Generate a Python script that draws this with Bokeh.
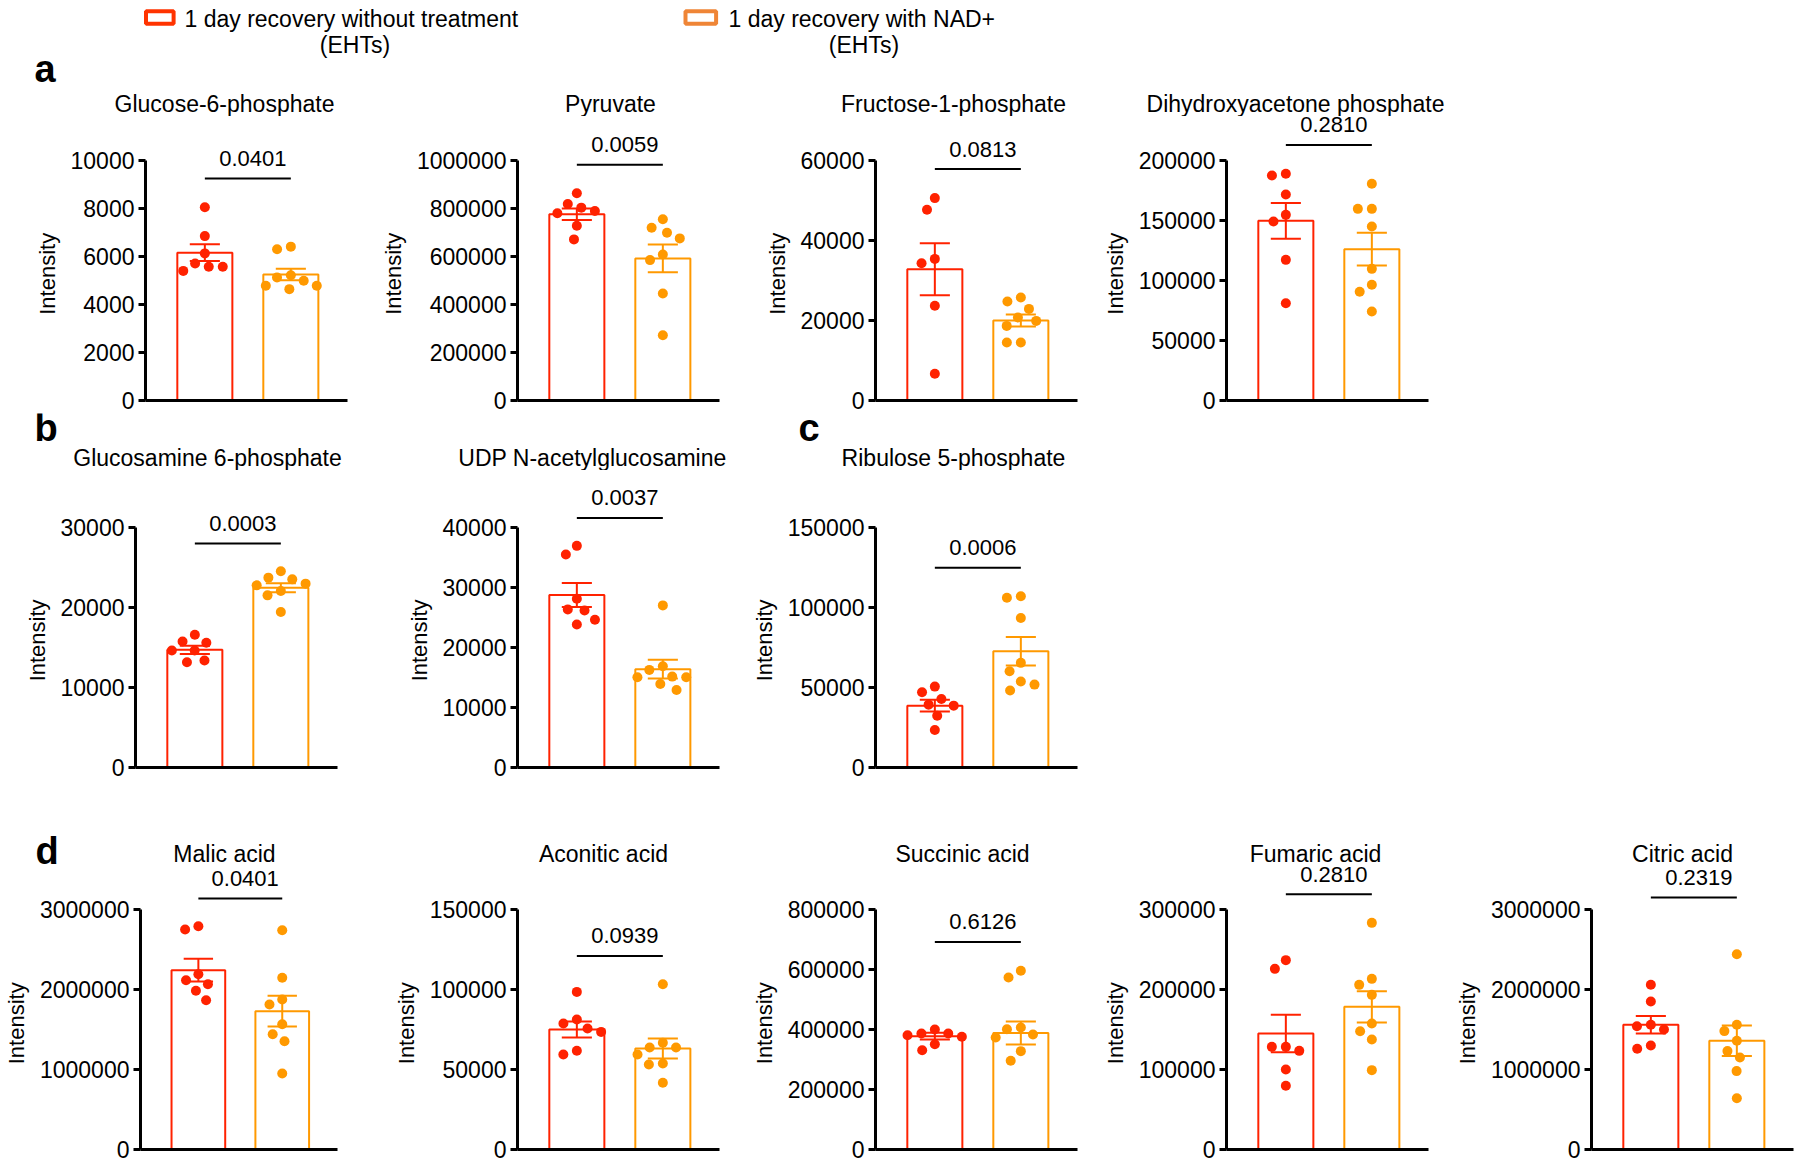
import math
from bokeh.plotting import figure
from bokeh.layouts import column, row
from bokeh.models import Range1d, FixedTicker, NumeralTickFormatter, Label, ColumnDataSource
from bokeh.embed import file_html
from bokeh.resources import INLINE

# ---------------- data ----------------
titles = ["Glucose-6-phosphate", "Pyruvate", "Fructose-1-phosphate", "Dihydroxyacetone phosphate",
          "Glucosamine 6-phosphate", "UDP N-acetylglucosamine", "Ribulose 5-phosphate",
          "Malic acid", "Aconitic acid", "Succinic acid", "Fumaric acid", "Citric acid"]
p_values = ["0.0401", "0.0059", "0.0813", "0.2810", "0.0003", "0.0037", "0.0006",
            "0.0401", "0.0939", "0.6126", "0.2810", "0.2319"]
y_max = [10000, 1000000, 60000, 200000, 30000, 40000, 150000,
         3000000, 150000, 800000, 300000, 3000000]
y_step = [2000, 200000, 20000, 50000, 10000, 10000, 50000,
          1000000, 50000, 200000, 100000, 1000000]
bracket_level = [9250, 982000, 57850, 213000, 28000, 41600, 124900,
                 3137000, 121000, 692000, 319000, 3150000]

ctrl_mean = [6160, 775800, 32830, 149700, 14710, 28750, 38650,
             2241700, 75000, 377800, 145000, 1560000]
ctrl_sem = [350, 23700, 6500, 14860, 520, 1980, 3660,
            141700, 5000, 11100, 23300, 110000]
nad_mean = [5250, 591900, 20000, 126100, 22480, 16380, 72700,
            1729200, 63130, 388000, 178300, 1360000]
nad_sem = [240, 57800, 1500, 13610, 560, 1560, 8880,
           191700, 6250, 38300, 19600, 190000]

g6p_ctrl = [8050, 6850, 6130, 5710, 5570, 5570, 5400]
g6p_nad = [6300, 6410, 5130, 4990, 5220, 4640, 4780, 4780]
pyr_ctrl = [863500, 803600, 819000, 780000, 789700, 728400, 671300]
pyr_nad = [720000, 754900, 675500, 699200, 608600, 585000, 445700, 271600]
f1p_ctrl = [50600, 47700, 34300, 35400, 23700, 6700]
f1p_nad = [24750, 25750, 22900, 20750, 19900, 18650, 14500, 14500]
dhap_ctrl = [188900, 187500, 171700, 154700, 149200, 117200, 81100]
dhap_nad = [180600, 159700, 159700, 145000, 109700, 96400, 90600, 74200]
gln6p_ctrl = [16590, 15590, 15750, 14620, 14620, 13160, 13370]
gln6p_nad = [24530, 23730, 23520, 22770, 22980, 22060, 21520, 19430]
udp_ctrl = [36940, 35490, 28130, 26180, 26350, 23840, 24620]
udp_nad = [27020, 16880, 16270, 15040, 15150, 15040, 13930, 12930]
ru5p_ctrl = [50560, 47010, 42830, 39280, 38650, 32380, 23400]
ru5p_nad = [106100, 107000, 93400, 65400, 60200, 53700, 48100, 51800]
mal_ctrl = [2750000, 2791700, 2191700, 2116700, 2066700, 1983300, 1866700]
mal_nad = [2741700, 2145800, 1875000, 1812500, 1566700, 1441700, 1354200, 950000]
aco_ctrl = [98500, 81250, 75600, 78750, 73500, 59400, 61700]
aco_nad = [103300, 66700, 63750, 63750, 59400, 53100, 53750, 41700]
suc_ctrl = [400000, 375600, 386700, 386700, 381100, 331100, 351100]
suc_nad = [595600, 573300, 406700, 401100, 383300, 373300, 327800, 295600]
fum_ctrl = [236700, 225800, 128300, 123300, 128300, 100000, 79600]
fum_nad = [283300, 213300, 205800, 193300, 147900, 157500, 137500, 99200]
cit_ctrl = [2060000, 1850000, 1560000, 1540000, 1500000, 1300000, 1260000]
cit_nad = [2440000, 1560000, 1480000, 1360000, 1230000, 1150000, 980000, 640000]

ctrl_points = [g6p_ctrl, pyr_ctrl, f1p_ctrl, dhap_ctrl, gln6p_ctrl, udp_ctrl, ru5p_ctrl,
               mal_ctrl, aco_ctrl, suc_ctrl, fum_ctrl, cit_ctrl]
nad_points = [g6p_nad, pyr_nad, f1p_nad, dhap_nad, gln6p_nad, udp_nad, ru5p_nad,
              mal_nad, aco_nad, suc_nad, fum_nad, cit_nad]

legend_labels = ["1 day recovery without treatment", "1 day recovery with NAD+"]
legend_sub = "(EHTs)"
panel_letters = ["a", "b", "c", "d"]
y_label = "Intensity"

# ---------------- layout / style ----------------
FONT = "Liberation Sans"
RED = "#FF2200"
ORANGE = "#FF9900"
LEG_RED = "#FF3300"
LEG_ORANGE = "#EF8536"

KX = 86.0          # px per x unit
X0 = 0.31
Y_PX = 240.0       # px from 0 to y max
SPACING = 14.0     # swarm spacing px
STRIP_W = 1790

panel_row = [0, 0, 0, 0, 1, 1, 1, 2, 2, 2, 2, 2]
fig_width = [377, 358, 351, 362, 377, 358, 351, 377, 358, 351, 365, 345]
border_left = [145, 140, 140, 140, 135, 140, 140, 135, 140, 140, 140, 140]
border_right = [30, 16, 9, 20, 40, 16, 9, 40, 16, 9, 23, 3]
title_dx = [79, 93, 78, 69, 72, 75, 78, 89, 86, 87, 89, 91]
strip_top = [0, 413, 783]
strip_height = [116, 57, 83]
row_height = [297, 313, 297]
row_bottom = [13, 16, 14]
title_y = [103, 457, 853]
label_pad = [5, 7, 5]     # non-breaking spaces to centre the axis label on the axis
# letter: (row, x left, y centre)
letter_pos = [(0, 34, 68), (1, 34, 427), (1, 798, 427), (2, 35, 850)]


def swarm(vals, ky):
    placed = []
    offs = [0.0] * len(vals)
    for i in sorted(range(len(vals)), key=lambda k: -vals[k]):
        y = vals[i] * ky
        cands = [0.0]
        for (px, py) in placed:
            dy = abs(py - y)
            if dy < SPACING:
                dx = math.sqrt(SPACING ** 2 - dy ** 2)
                cands.extend([px - dx, px + dx])
        cands.sort(key=lambda c: (round(abs(c), 6), c))
        for c in cands:
            if all((c - px) ** 2 + (y - py) ** 2 >= SPACING ** 2 - 1e-6 for px, py in placed):
                offs[i] = c
                break
        placed.append((offs[i], y))
    return offs


row_x = [0, 0, 0]
axis_x = []
for i in range(12):
    r = panel_row[i]
    axis_x.append(row_x[r] + border_left[i])
    row_x[r] += fig_width[i]


def make_strip(r):
    h = strip_height[r]
    s = figure(width=STRIP_W, height=h, x_range=Range1d(0, STRIP_W), y_range=Range1d(h, 0),
               x_axis_type=None, y_axis_type=None, output_backend="svg",
               toolbar_location=None, min_border=0)
    s.outline_line_color = None
    s.grid.visible = False
    return s


strips = [make_strip(r) for r in range(3)]

rows = [[], [], []]
for i in range(12):
    r = panel_row[i]
    ymax = y_max[i]
    ky = Y_PX / ymax
    fh = row_height[r] - row_bottom[r]
    fw = fig_width[i] - border_left[i] - border_right[i]
    p = figure(width=fig_width[i], height=row_height[r],
               x_range=Range1d(X0, X0 + fw / KX), y_range=Range1d(0, fh / ky),
               output_backend="svg", toolbar_location=None,
               min_border_left=border_left[i], min_border_right=border_right[i],
               min_border_top=0, min_border_bottom=row_bottom[r])
    p.outline_line_color = None
    p.grid.visible = False

    ya = p.yaxis[0]
    ya.ticker = FixedTicker(ticks=list(range(0, ymax + 1, y_step[i])))
    ya.formatter = NumeralTickFormatter(format="0")
    ya.bounds = (0, ymax)
    ya.axis_label = y_label + "\u00a0" * label_pad[r]
    ya.axis_label_text_font = FONT
    ya.axis_label_text_font_size = "22px"
    ya.axis_label_text_font_style = "normal"
    ya.axis_label_text_color = "black"
    ya.axis_label_standoff = 8
    ya.major_label_text_font = FONT
    ya.major_label_text_font_size = "23px"
    ya.major_label_text_color = "black"
    ya.major_label_standoff = 4
    ya.axis_line_width = 3
    ya.axis_line_color = "black"
    ya.major_tick_line_width = 3
    ya.major_tick_line_color = "black"
    ya.major_tick_out = 7
    ya.major_tick_in = 0
    ya.minor_tick_line_color = None

    xa = p.xaxis[0]
    xa.ticker = FixedTicker(ticks=[])
    xa.major_label_text_font_size = "0px"
    xa.major_label_standoff = 0
    xa.major_tick_line_color = None
    xa.major_tick_out = 0
    xa.minor_tick_line_color = None
    xa.axis_line_width = 3
    xa.axis_line_color = "black"

    means = [ctrl_mean[i], nad_mean[i]]
    sems = [ctrl_sem[i], nad_sem[i]]
    cols = [RED, ORANGE]
    src = ColumnDataSource(dict(x=[1, 2], top=means, c=cols))
    p.vbar(x="x", top="top", bottom=0, width=0.64, source=src,
           fill_color=None, line_color="c", line_width=2)

    for k, pts in enumerate([ctrl_points[i], nad_points[i]]):
        offs = swarm(pts, ky)
        xs = [k + 1 + o / KX for o in offs]
        p.scatter(x=xs, y=pts, size=10, fill_color=cols[k], line_color=None)

    lo = [m - s for m, s in zip(means, sems)]
    hi = [m + s for m, s in zip(means, sems)]
    p.segment(x0=[1, 2], y0=lo, x1=[1, 2], y1=hi, line_color=cols, line_width=2)
    cw = 0.175
    p.segment(x0=[1 - cw, 2 - cw, 1 - cw, 2 - cw], x1=[1 + cw, 2 + cw, 1 + cw, 2 + cw],
              y0=hi + lo, y1=hi + lo, line_color=cols + cols, line_width=2)

    b = bracket_level[i]
    p.segment(x0=[1], x1=[2], y0=[b], y1=[b], line_color="black", line_width=2)
    p.add_layout(Label(x=1.5 + 5 / KX, y=b + 20 / ky, text=p_values[i],
                       text_font=FONT, text_font_size="22px", text_color="black",
                       text_align="center", text_baseline="middle"))

    # panel title in the strip above the row
    strips[r].add_layout(Label(x=axis_x[i] + title_dx[i], y=title_y[r] - strip_top[r],
                               text=titles[i], text_font=FONT, text_font_size="23px",
                               text_color="black", text_align="center",
                               text_baseline="middle"))
    rows[r].append(p)

for letter, (r, lx, ly) in zip(panel_letters, letter_pos):
    strips[r].add_layout(Label(x=lx, y=ly - strip_top[r], text=letter, text_font=FONT,
                               text_font_size="38px", text_font_style="bold",
                               text_color="black", text_align="left",
                               text_baseline="middle"))

# legend in the first strip
leg = strips[0]
leg.rect(x=[159.3, 700.3], y=[17, 17], width=[27.6, 30.6], height=[12.7, 12.7],
         fill_color=None, line_color=[LEG_RED, LEG_ORANGE], line_width=4)
for lx, cx, txt in [(184, 354.5, legend_labels[0]), (728, 863.5, legend_labels[1])]:
    leg.add_layout(Label(x=lx, y=18, text=txt, text_font=FONT, text_font_size="23px",
                         text_color="black", text_align="left", text_baseline="middle"))
    leg.add_layout(Label(x=cx, y=44, text=legend_sub, text_font=FONT, text_font_size="23px",
                         text_color="black", text_align="center", text_baseline="middle"))

layout = column(strips[0], row(*rows[0]), strips[1], row(*rows[1]), strips[2], row(*rows[2]))
open("out.html", "w").write(file_html(layout, INLINE))
